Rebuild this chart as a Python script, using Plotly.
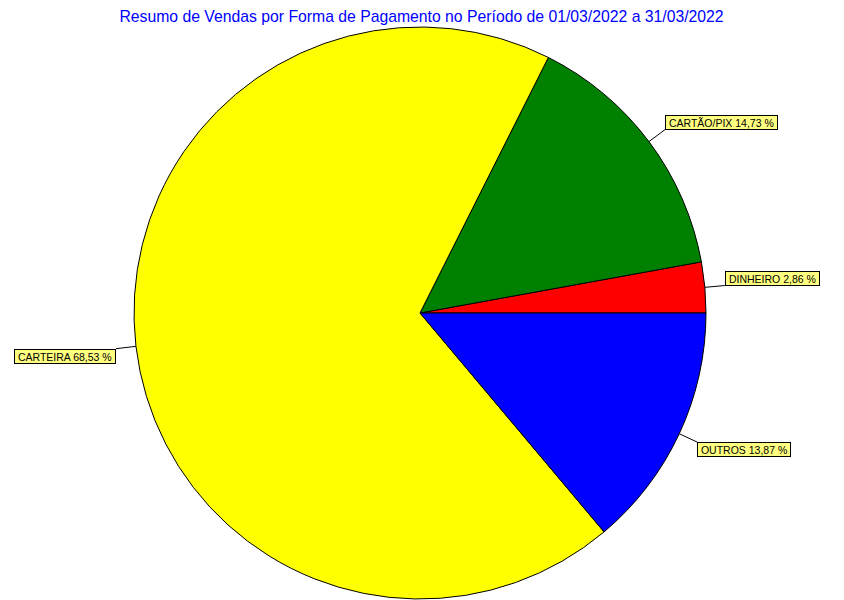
import math
import plotly.graph_objects as go

# Vendas por forma de pagamento (% do total), na ordem anti-horária a partir das 3 horas
formas = ['DINHEIRO', 'CARTÃO/PIX', 'CARTEIRA', 'OUTROS']
percentuais = [2.86, 14.73, 68.53, 13.87]
cores = ['#FF0000', '#008000', '#FFFF00', '#0000FF']

titulo = 'Resumo de Vendas por Forma de Pagamento no Período de 01/03/2022 a 31/03/2022'

# geometria da figura (a página tem 8px de margem no body)
W, H = 836, 592
M_L, M_R, M_T, M_B = 0, 12, 19, 1
PW, PH = W - M_L - M_R, H - M_T - M_B
CX, CY = M_L + PW / 2, M_T + PH / 2
R = min(PW, PH) / 2
LEADER = 20


def px_to_paper(px, py):
    return (px - M_L) / PW, (H - M_B - py) / PH


total = sum(percentuais)

fig = go.Figure(go.Pie(
    labels=formas,
    values=percentuais,
    sort=False,
    direction='counterclockwise',
    # plotly põe a 1a fatia do lado horário da rotação; compensa p/ começar às 3h
    rotation=90 - percentuais[0] / total * 360,
    marker=dict(colors=cores, line=dict(color='black', width=1)),
    textinfo='none',
    hoverinfo='label+percent',
    showlegend=False,
))

# rótulos com linha de chamada, estilo caixa amarela
acumulado = 0
for forma, pct in zip(formas, percentuais):
    meio = (acumulado + pct / 2) / total * 2 * math.pi
    acumulado += pct
    c, s = math.cos(meio), math.sin(meio)
    x0, y0 = CX + R * c, CY - R * s
    x1, y1 = CX + (R + LEADER) * c, CY - (R + LEADER) * s
    p0 = px_to_paper(x0, y0)
    p1 = px_to_paper(x1, y1)
    fig.add_shape(type='line', xref='paper', yref='paper',
                  x0=p0[0], y0=p0[1], x1=p1[0], y1=p1[1],
                  line=dict(color='black', width=1))
    texto = f'{forma} {pct:.2f} %'.replace('.', ',')
    fig.add_annotation(
        x=p1[0], y=p1[1], xref='paper', yref='paper',
        text='\u00a0' + texto + '\u00a0', showarrow=False,
        xanchor='left' if c >= 0 else 'right',
        yanchor='bottom' if s >= 0 else 'top',
        height=13, valign='middle',
        bgcolor='#FFFF80', bordercolor='black', borderwidth=1, borderpad=0,
        font=dict(family='Liberation Sans, Arial', size=10.5, color='black'),
    )

fig.update_layout(
    width=W, height=H,
    margin=dict(l=M_L, r=M_R, t=M_T, b=M_B),
    paper_bgcolor='white',
    plot_bgcolor='white',
    title=dict(text=titulo, x=413.5 / W, xanchor='center', y=1 - 8 / H, yanchor='middle',
               font=dict(family='Liberation Sans, Arial', size=15.75, color='#0000FF')),
)

fig.write_html('out.html')
